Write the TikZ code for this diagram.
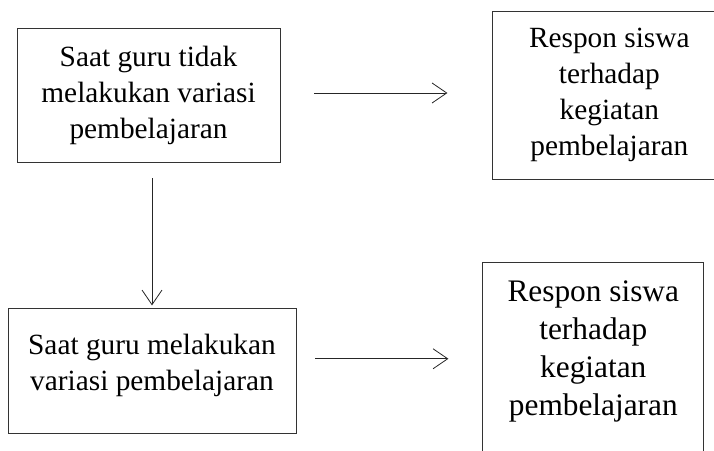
\documentclass[tikz,border=0pt]{standalone}
\usepackage{fontspec}
\setmainfont{Liberation Serif}
\usetikzlibrary{positioning, arrows.meta}

\begin{document}
\begin{tikzpicture}[
            block/.style={rectangle, draw=black!80, line width=0.6pt, minimum width=197.25pt, minimum height=100.5pt, font=\fontsize{22}{27}\selectfont},
            respbox/.style={block, minimum width=174.75pt, minimum height=126pt},
            link/.style={-{Straight Barb[length=11pt, width=15pt]}, line width=0.6pt, black!85},
            node distance=109.5pt and 159pt,
            every node/.style={align=center}
        ]
        \useasboundingbox (0,0) rectangle (535.5pt,-337.5pt);
        \clip (0,0) rectangle (535.5pt,-337.5pt);

        % Blocks
        \node[block] (tanpa) at (111.4pt,-71.25pt) {Saat guru tidak\\melakukan variasi\\pembelajaran};
        \node[respbox, right=of tanpa] (respon1) {Respon siswa\\terhadap\\kegiatan\\pembelajaran};

        \node[block, below=of tanpa, xshift=2.6pt, minimum width=216pt, minimum height=93.75pt, text depth=14pt] (dengan) {Saat guru melakukan\\variasi pembelajaran};
        \node[respbox, right=139.5pt of dengan, yshift=2.6pt, minimum width=165.75pt, minimum height=157.5pt, text depth=29.5pt, font=\fontsize{23.5}{28.5}\selectfont] (respon2) {Respon siswa\\terhadap\\kegiatan\\pembelajaran};

        % Arrows
        \draw[link, shorten <=25.5pt, shorten >=33.75pt] ([yshift=1.5pt]tanpa.east) -- ([yshift=1.5pt]tanpa.east -| respon1.west);
        \draw[link, shorten <=12pt, shorten >=2.25pt] (tanpa.south -| dengan.north) -- (dengan.north);
        \draw[link, shorten <=14.25pt, shorten >=25.5pt] ([yshift=9.4pt]dengan.east) -- ([yshift=9.4pt]dengan.east -| respon2.west);

    \end{tikzpicture}
\end{document}
